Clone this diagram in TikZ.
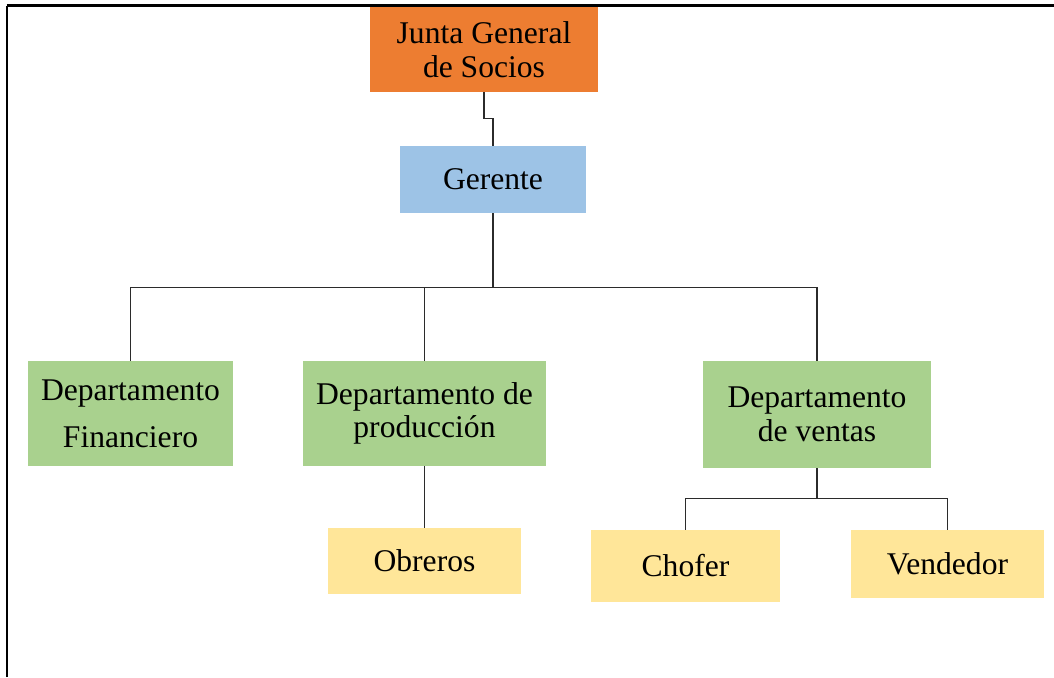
\documentclass[tikz,border=0pt]{standalone}
\usepackage{fontspec}
\setmainfont{Liberation Serif}
\definecolor{cOrange}{HTML}{ED7D31}
\definecolor{cBlue}{HTML}{9DC3E6}
\definecolor{cGreen}{HTML}{A9D18E}
\definecolor{cYellow}{HTML}{FFE699}
\definecolor{cLine}{HTML}{2B2B2B}
\tikzset{
  box/.style={inner sep=0pt, align=center, font=\fontsize{15.8}{16.8}\selectfont},
  link/.style={draw=cLine, line width=0.65pt},
}
\begin{document}
\begin{tikzpicture}[x=0.5pt,y=-0.5pt]
\useasboundingbox (0,0) rectangle (1054,677);
\fill[white] (0,0) rectangle (1054,677);
\draw[line width=1.1pt] (7,677) -- (7,5.5);
\draw[line width=1.6pt] (6.5,5.5) -- (1054,5.5);

\node[box, fill=cOrange, minimum width=114pt, minimum height=42.5pt] (junta) at (484,49.5) {Junta General\\de Socios};
\node[box, fill=cBlue, minimum width=93pt, minimum height=33.5pt] (gerente) at (493,179.5) {Gerente};
\node[box, fill=cGreen, minimum width=102.5pt, minimum height=52.5pt, font=\fontsize{15.8}{23.5}\selectfont] (fin) at (130.5,413.5) {Departamento\\Financiero};
\node[box, fill=cGreen, minimum width=121.5pt, minimum height=52.5pt] (prod) at (424.5,413.5) {Departamento de\\producción};
\node[box, fill=cGreen, minimum width=114pt, minimum height=53.5pt] (ventas) at (817,414.5) {Departamento\\de ventas};
\node[box, fill=cYellow, minimum width=96.5pt, minimum height=33pt] (obreros) at (424.5,561) {Obreros};
\node[box, fill=cYellow, minimum width=94.5pt, minimum height=36pt] (chofer) at (685.5,566) {Chofer};
\node[box, fill=cYellow, minimum width=96.5pt, minimum height=34pt] (vendedor) at (947.5,564) {Vendedor};

\draw[link] (junta.south) -- ++(0,26) -| (gerente.north);
\draw[link] (gerente.south) -- ++(0,74) coordinate (bus);
\draw[link] (fin.north) |- (bus) -| (ventas.north);
\draw[link] (prod.north) -- (prod.north |- bus);
\draw[link] (prod.south) -- (obreros.north);
\draw[link] (ventas.south) -- ++(0,30) coordinate (vb);
\draw[link] (chofer.north) |- (vb) -| (vendedor.north);
\end{tikzpicture}
\end{document}
